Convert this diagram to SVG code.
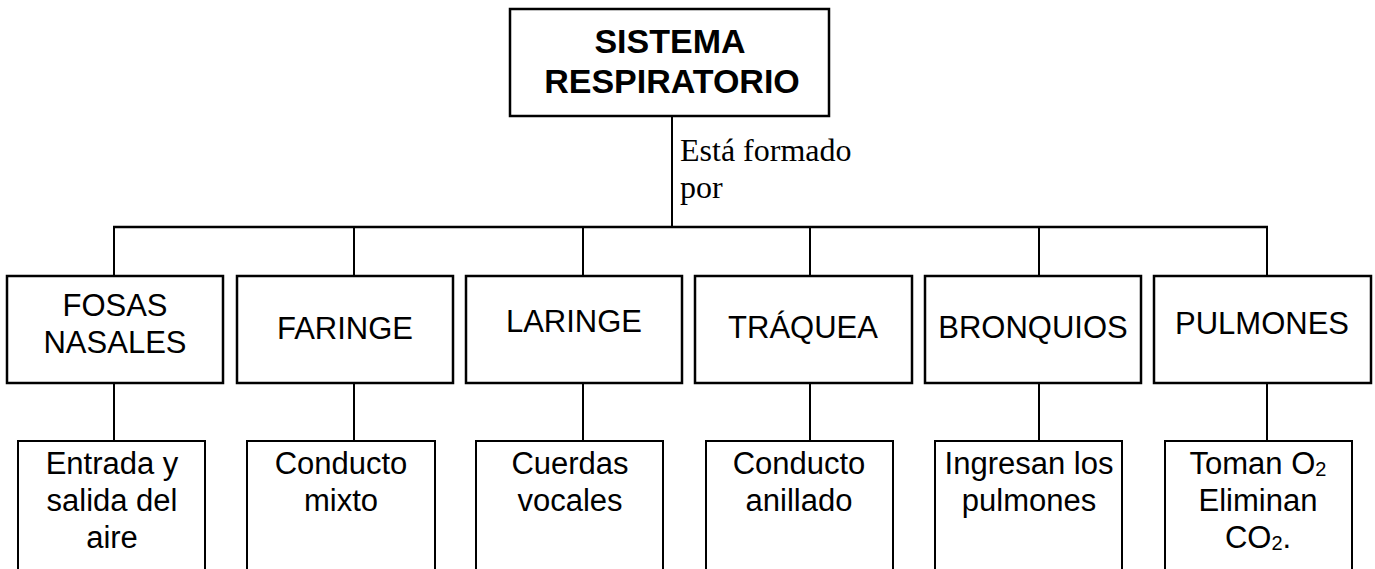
<svg xmlns="http://www.w3.org/2000/svg" width="1375" height="569" viewBox="0 0 1375 569">
<style>
.box1{fill:#fff;stroke:#000;stroke-width:2.5}
.box2{fill:#fff;stroke:#000;stroke-width:2}
.ln{stroke:#000;stroke-width:2;fill:none}
.t{font-family:"Liberation Sans",Arial,sans-serif;font-size:31px;fill:#000;text-anchor:middle}
.tb{font-family:"Liberation Sans",Arial,sans-serif;font-size:34px;font-weight:bold;fill:#000;text-anchor:middle}
.lbl{font-family:"Liberation Serif","Times New Roman",serif;font-size:32px;fill:#000}
.sub{font-size:20px}
</style>
<rect width="1375" height="569" fill="#fff"/>
<g id="connectors">
<line class="ln" x1="672" y1="116" x2="672" y2="227"/>
<line class="ln" x1="113" y1="227" x2="1268" y2="227" style="stroke-width:2.5"/>
<line class="ln" x1="114" y1="227" x2="114" y2="276"/>
<line class="ln" x1="354" y1="227" x2="354" y2="276"/>
<line class="ln" x1="583" y1="227" x2="583" y2="276"/>
<line class="ln" x1="810" y1="227" x2="810" y2="276"/>
<line class="ln" x1="1039" y1="227" x2="1039" y2="276"/>
<line class="ln" x1="1267" y1="227" x2="1267" y2="276"/>
<line class="ln" x1="114" y1="383" x2="114" y2="441"/>
<line class="ln" x1="354" y1="383" x2="354" y2="441"/>
<line class="ln" x1="583" y1="383" x2="583" y2="441"/>
<line class="ln" x1="810" y1="383" x2="810" y2="441"/>
<line class="ln" x1="1039" y1="383" x2="1039" y2="441"/>
<line class="ln" x1="1267" y1="383" x2="1267" y2="441"/>
<text class="lbl" x="680" y="161">Está formado</text>
<text class="lbl" x="680" y="198">por</text>
</g>
<g id="root">
<rect class="box1" x="510" y="9" width="319" height="107"/>
<text class="tb" x="670" y="53">SISTEMA</text>
<text class="tb" x="672" y="93">RESPIRATORIO</text>
</g>
<g id="fosas">
<rect class="box1" x="7" y="276" width="216" height="107"/>
<text class="t" x="115" y="316">FOSAS</text>
<text class="t" x="115" y="353">NASALES</text>
</g>
<g id="faringe">
<rect class="box1" x="237" y="276" width="216" height="107"/>
<text class="t" x="345" y="339">FARINGE</text>
</g>
<g id="laringe">
<rect class="box1" x="466" y="276" width="216" height="107"/>
<text class="t" x="574" y="332">LARINGE</text>
</g>
<g id="traquea">
<rect class="box1" x="695" y="276" width="217" height="107"/>
<text class="t" x="803" y="338">TRÁQUEA</text>
</g>
<g id="bronquios">
<rect class="box1" x="925" y="276" width="216" height="107"/>
<text class="t" x="1033" y="338">BRONQUIOS</text>
</g>
<g id="pulmones">
<rect class="box1" x="1154" y="276" width="217" height="107"/>
<text class="t" x="1262" y="334">PULMONES</text>
</g>
<g id="fosas-desc">
<rect class="box2" x="18" y="441" width="187" height="140"/>
<text class="t" x="112" y="474">Entrada y</text>
<text class="t" x="112" y="511">salida del</text>
<text class="t" x="112" y="548">aire</text>
</g>
<g id="faringe-desc">
<rect class="box2" x="247" y="441" width="188" height="140"/>
<text class="t" x="341" y="474">Conducto</text>
<text class="t" x="341" y="511">mixto</text>
</g>
<g id="laringe-desc">
<rect class="box2" x="476" y="441" width="187" height="140"/>
<text class="t" x="570" y="474">Cuerdas</text>
<text class="t" x="570" y="511">vocales</text>
</g>
<g id="traquea-desc">
<rect class="box2" x="706" y="441" width="187" height="140"/>
<text class="t" x="799" y="474">Conducto</text>
<text class="t" x="799" y="511">anillado</text>
</g>
<g id="bronquios-desc">
<rect class="box2" x="935" y="441" width="187" height="140"/>
<text class="t" x="1029" y="474">Ingresan los</text>
<text class="t" x="1029" y="511">pulmones</text>
</g>
<g id="pulmones-desc">
<rect class="box2" x="1165" y="441" width="187" height="140"/>
<text class="t" x="1258" y="474">Toman O<tspan class="sub" dy="2">2</tspan></text>
<text class="t" x="1258" y="511">Eliminan</text>
<text class="t" x="1258" y="548">CO<tspan class="sub" dy="2">2</tspan><tspan dy="-2">.</tspan></text>
</g>
</svg>
